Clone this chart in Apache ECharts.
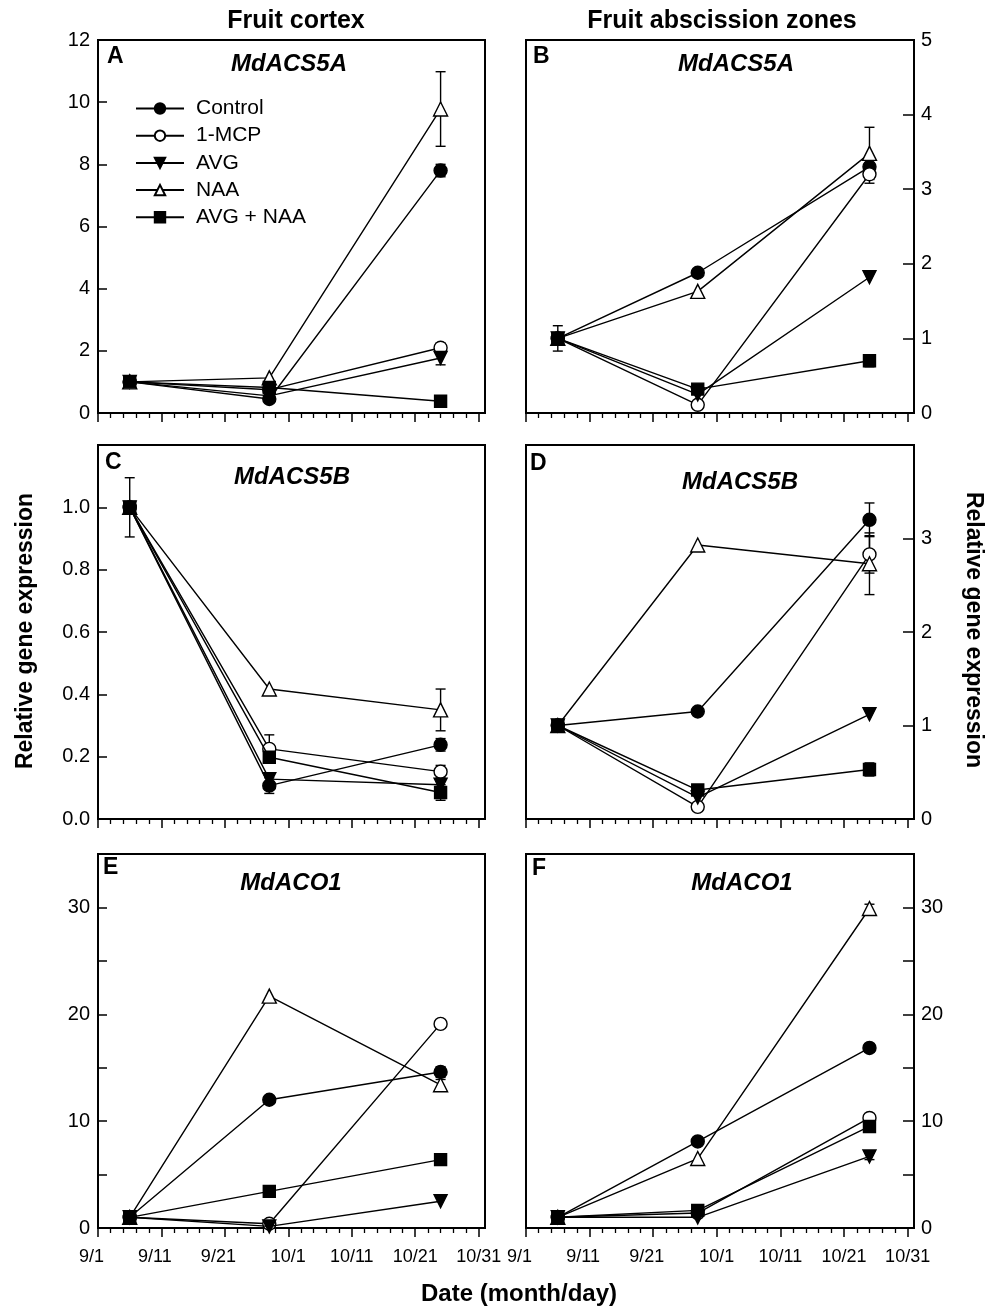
<!DOCTYPE html>
<html>
<head>
<meta charset="utf-8">
<script src="https://cdn.jsdelivr.net/npm/echarts@6/dist/echarts.min.js"></script>
<style>
html,body{margin:0;padding:0;background:#fff;}
#chart{width:999px;height:1309px;}
</style>
</head>
<body>
<div id="chart"></div>
<script>
// ---------- data ----------
const seriesNames = ['Control', '1-MCP', 'AVG', 'NAA', 'AVG + NAA'];
const sampleDates = ['9/6', '9/28', '10/25'];
const tickDates = ['9/1', '9/11', '9/21', '10/1', '10/11', '10/21', '10/31'];

// rows: Control, 1-MCP, AVG, NAA, AVG + NAA ; columns: sample dates
const aValues = [[1.0, 0.45, 7.8], [1.0, 0.75, 2.1], [1.0, 0.55, 1.77], [1.0, 1.13, 9.78], [1.0, 0.82, 0.38]];
const aErrors = [[0.05, 0.05, 0.2], [0, 0, 0.15], [0.05, 0, 0.22], [0, 0, 1.2], [0, 0, 0.05]];

const bValues = [[1.0, 1.88, 3.3], [1.0, 0.11, 3.2], [1.0, 0.25, 1.82], [1.0, 1.63, 3.48], [1.0, 0.32, 0.7]];
const bErrors = [[0.17, 0, 0.1], [0, 0, 0.12], [0, 0, 0], [0, 0, 0.35], [0, 0, 0.08]];

const cValues = [[1.0, 0.107, 0.238], [1.0, 0.225, 0.152], [1.0, 0.128, 0.11], [1.0, 0.417, 0.35], [1.0, 0.198, 0.085]];
const cErrors = [[0.095, 0.025, 0.02], [0, 0.045, 0.02], [0, 0, 0], [0, 0, 0.067], [0, 0, 0.025]];

const dValues = [[1.0, 1.15, 3.2], [1.0, 0.13, 2.83], [1.0, 0.23, 1.12], [1.0, 2.93, 2.73], [1.0, 0.31, 0.53]];
const dErrors = [[0, 0, 0.18], [0, 0, 0.2], [0, 0, 0], [0, 0, 0.33], [0, 0, 0.07]];

const eValues = [[1.0, 12.0, 14.6], [1.0, 0.4, 19.1], [1.0, 0.15, 2.5], [1.0, 21.7, 13.4], [1.0, 3.43, 6.4]];
const eErrors = [[0, 0, 0.5], [0, 0, 0], [0, 0, 0], [0, 0, 0.5], [0, 0, 0]];

const fValues = [[1.0, 8.1, 16.85], [1.0, 1.4, 10.3], [1.0, 1.0, 6.7], [1.0, 6.5, 29.9], [1.0, 1.65, 9.5]];
const fErrors = [[0, 0, 0.4], [0, 0, 0], [0, 0, 0.3], [0, 0, 0.4], [0, 0, 0]];

const panelLetters = ['A', 'B', 'C', 'D', 'E', 'F'];
const geneNames = ['MdACS5A', 'MdACS5A', 'MdACS5B', 'MdACS5B', 'MdACO1', 'MdACO1'];

// ---------- helpers ----------
const FONT = '"Liberation Sans", Arial, Helvetica, sans-serif';
function dayOffset(md) { // days after 9/1
  const p = md.split('/').map(Number);
  return p[0] === 9 ? p[1] - 1 : 30 + p[1] - 1;
}
const sampleX = sampleDates.map(dayOffset);
const majorDays = tickDates.map(dayOffset);
const minorDays = [];
for (let d = 0; d <= 60; d += 2) if (d % 10 !== 0) minorDays.push(d);

const panels = [
  {values: aValues, errors: aErrors, yMax: 12, yInt: 2, side: 'left', fmt: v => String(v)},
  {values: bValues, errors: bErrors, yMax: 5, yInt: 1, side: 'right', fmt: v => String(v)},
  {values: cValues, errors: cErrors, yMax: 1.2, yInt: 0.2, side: 'left', fmt: v => (Math.abs(v - 1.2) < 1e-6 ? '' : v.toFixed(1))},
  {values: dValues, errors: dErrors, yMax: 4, yInt: 1, side: 'right', fmt: v => (v >= 4 ? '' : String(v))},
  {values: eValues, errors: eErrors, yMax: 35, yInt: 5, side: 'left', fmt: v => (v % 10 === 0 ? String(v) : '')},
  {values: fValues, errors: fErrors, yMax: 35, yInt: 5, side: 'right', fmt: v => (v % 10 === 0 ? String(v) : '')}
];

const colX = [98, 526];
const colW = [387, 388];
const rowY = [40, 445, 854];
const rowH = [373, 374, 374];

const markerDefs = [
  {symbol: 'circle', size: 13, fill: '#000', rotate: 0},
  {symbol: 'circle', size: 13, fill: '#fff', rotate: 0},
  {symbol: 'triangle', size: 13, fill: '#000', rotate: 180},
  {symbol: 'triangle', size: 14, fill: '#fff', rotate: 0},
  {symbol: 'rect', size: 12, fill: '#000', rotate: 0}
];

const grids = [], xAxes = [], yAxes = [], series = [];

panels.forEach((p, i) => {
  const col = i % 2, row = Math.floor(i / 2);
  grids.push({left: colX[col], top: rowY[row], width: colW[col], height: rowH[row],
    show: true, borderColor: '#000', borderWidth: 2, backgroundColor: 'transparent'});
  const showX = row === 2;
  xAxes.push({
    type: 'value', gridIndex: i, min: 0, max: 61, interval: 10, position: 'bottom',
    axisLine: {show: true, onZero: false, lineStyle: {color: '#000', width: 2}},
    axisTick: {show: true, inside: false, length: 9, customValues: majorDays, lineStyle: {color: '#000', width: 1.5}},
    axisLabel: {show: showX, customValues: majorDays, margin: 20, color: '#000', fontSize: 18, fontFamily: FONT,
      formatter: v => {
        const idx = majorDays.indexOf(v);
        if (idx < 0) return '';
        const t = tickDates[idx];
        return t.startsWith('9/') ? '{s|' + t + '}' : t;
      },
      rich: {s: {fontSize: 18, fontFamily: FONT, color: '#000', padding: [0, 13, 0, 0]}}},
    splitLine: {show: false}
  });
  xAxes.push({
    type: 'value', gridIndex: i, min: 0, max: 61, interval: 10, position: 'bottom',
    axisLine: {show: false, onZero: false},
    axisTick: {show: true, inside: false, length: 5, customValues: minorDays, lineStyle: {color: '#000', width: 1.3}},
    axisLabel: {show: false},
    splitLine: {show: false}
  });
  yAxes.push({
    type: 'value', gridIndex: i, min: 0, max: p.yMax, interval: p.yInt, position: p.side,
    axisLine: {show: true, onZero: false, lineStyle: {color: '#000', width: 2}},
    axisTick: {show: true, inside: true, length: p.side === 'left' ? 9 : 11, lineStyle: {color: '#000', width: 1.5}},
    axisLabel: {show: true, margin: p.side === 'left' ? 8 : 7, color: '#000', fontSize: 20, fontFamily: FONT, formatter: p.fmt},
    splitLine: {show: false}
  });

  // error bars
  const errData = [];
  p.values.forEach((vals, s) => vals.forEach((v, k) => {
    const e = p.errors[s][k];
    if (e > 0) errData.push([sampleX[k], v, e]);
  }));
  series.push({
    type: 'custom', xAxisIndex: 2 * i, yAxisIndex: i, z: 1, silent: true, data: errData,
    renderItem: (params, api) => {
      const x = api.value(0), y = api.value(1), e = api.value(2);
      const t = api.coord([x, y + e]), b = api.coord([x, y - e]);
      const hw = 5, st = {stroke: '#000', lineWidth: 1.4};
      return {type: 'group', children: [
        {type: 'line', shape: {x1: t[0], y1: t[1], x2: b[0], y2: b[1]}, style: st},
        {type: 'line', shape: {x1: t[0] - hw, y1: t[1], x2: t[0] + hw, y2: t[1]}, style: st},
        {type: 'line', shape: {x1: b[0] - hw, y1: b[1], x2: b[0] + hw, y2: b[1]}, style: st}
      ]};
    }
  });

  p.values.forEach((vals, s) => {
    const m = markerDefs[s];
    series.push({
      type: 'line', name: seriesNames[s], xAxisIndex: 2 * i, yAxisIndex: i, z: 2 + s,
      data: vals.map((v, k) => [sampleX[k], v]),
      symbol: m.symbol, symbolSize: m.size, symbolRotate: m.rotate, showAllSymbol: true,
      lineStyle: {color: '#000', width: 1.4},
      itemStyle: {color: m.fill, borderColor: '#000', borderWidth: 1.4},
      emphasis: {disabled: true}, silent: true
    });
  });
});

// ---------- texts ----------
const graphics = [];
function txt(x, y, text, opts) {
  graphics.push(Object.assign({type: 'text', x: x, y: y, rotation: opts.rotation || 0,
    style: {text: text, fill: '#000', font: opts.font, textAlign: opts.align || 'center', textVerticalAlign: 'middle'}}));
}
txt(296, 21, 'Fruit cortex', {font: 'bold 25px ' + FONT});
txt(722, 21, 'Fruit abscission zones', {font: 'bold 25px ' + FONT});
txt(519, 1294, 'Date (month/day)', {font: 'bold 24px ' + FONT});
txt(26, 631, 'Relative gene expression', {font: 'bold 23px ' + FONT, rotation: Math.PI / 2});
txt(973, 630, 'Relative gene expression', {font: 'bold 23px ' + FONT, rotation: -Math.PI / 2});

const letterPos = [[107, 57], [533, 57], [105, 463], [530, 464], [103, 868], [532, 869]];
const genePos = [[289, 64], [736, 64], [292, 477], [740, 482], [291, 883], [742, 883]];
panelLetters.forEach((L, i) => txt(letterPos[i][0], letterPos[i][1], L, {font: 'bold 23px ' + FONT, align: 'left'}));
geneNames.forEach((g, i) => txt(genePos[i][0], genePos[i][1], g, {font: 'italic bold 24px ' + FONT}));

const chart = echarts.init(document.getElementById('chart'), null, {renderer: 'canvas'});
chart.setOption({
  animation: false,
  backgroundColor: '#fff',
  grid: grids,
  xAxis: xAxes,
  yAxis: yAxes,
  legend: {
    data: seriesNames, orient: 'vertical', left: 130, top: 93, itemWidth: 48, itemHeight: 13, itemGap: 6.2,
    selectedMode: false, inactiveColor: '#000',
    textStyle: {fontSize: 21, lineHeight: 20, fontFamily: FONT, color: '#000', padding: [0, 0, 0, 7]}
  },
  graphic: graphics,
  series: series
});
</script>
</body>
</html>
